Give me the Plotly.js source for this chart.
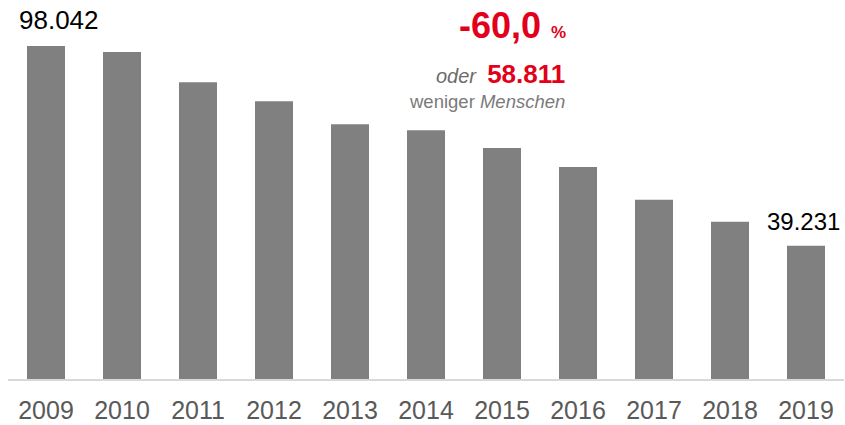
<!DOCTYPE html>
<html>
<head>
<meta charset="utf-8">
<script src="https://cdn.plot.ly/plotly-3.0.1.min.js"></script>
<style>html,body{margin:0;padding:0;background:#fff;}#chart{width:845px;height:425px;}</style>
</head>
<body>
<div id="chart"></div>
<script>
var years = ['2009','2010','2011','2012','2013','2014','2015','2016','2017','2018','2019'];
var values = [98042, 96280, 87400, 81740, 74980, 73220, 68020, 62440, 52740, 46280, 39231];
var labelledYears = ['2009','2019'];
var changePercent = '-60,0';
var changeAbsolute = '58.811';

function fmt(v){ return String(v).replace(/\B(?=(\d{3})+(?!\d))/g, '.'); }

var red = '#e2001a';
var font = 'Liberation Sans, Arial, sans-serif';

var annotations = labelledYears.map(function(y, i){
  var idx = years.indexOf(y);
  return {
    x: idx, y: values[idx], xref: 'x', yref: 'y',
    text: fmt(values[idx]), showarrow: false,
    xanchor: 'center', yanchor: 'bottom',
    xshift: i === 0 ? 13 : -3, yshift: 9,
    font: {family: font, size: i === 0 ? 26 : 24, color: '#000'}
  };
});

function px(x){ return (x - 8) / 836; }
function py(y){ return (379 - y) / 379; }

annotations.push({
  xref: 'paper', yref: 'paper', x: px(568), y: py(26),
  xanchor: 'right', yanchor: 'middle', showarrow: false,
  text: '<b>' + changePercent + ' <span style="font-size:17px">%</span></b>',
  font: {family: font, size: 36, color: red}
});
annotations.push({
  xref: 'paper', yref: 'paper', x: px(567), y: py(74),
  xanchor: 'right', yanchor: 'middle', showarrow: false,
  text: '<i>oder</i>  <b><span style="font-size:26px;color:' + red + '">' + changeAbsolute + '</span></b>',
  font: {family: font, size: 20, color: '#6b6b6b'}
});
annotations.push({
  xref: 'paper', yref: 'paper', x: px(567), y: py(101),
  xanchor: 'right', yanchor: 'middle', showarrow: false,
  text: 'weniger <i>Menschen</i>',
  font: {family: font, size: 18.5, color: '#7a7a7a'}
});

var trace = {
  type: 'bar', x: years, y: values,
  marker: {color: '#808080', line: {width: 0}},
  hoverinfo: 'none'
};

var layout = {
  width: 845, height: 425,
  margin: {l: 8, r: 1, t: 0, b: 46},
  paper_bgcolor: '#fff', plot_bgcolor: '#fff',
  bargap: 0.5,
  showlegend: false,
  xaxis: {
    type: 'category', range: [-0.5, years.length - 0.5], autorange: false,
    showline: true, linecolor: '#d9d9d9', linewidth: 2,
    ticks: '', showgrid: false, zeroline: false,
    tickfont: {family: font, size: 25, color: '#595959'},
    ticklabelstandoff: 8
  },
  yaxis: {
    range: [0, 111585], autorange: false, visible: false, showgrid: false, zeroline: false
  },
  annotations: annotations
};

Plotly.newPlot('chart', [trace], layout, {displayModeBar: false, staticPlot: true});
</script>
</body>
</html>
